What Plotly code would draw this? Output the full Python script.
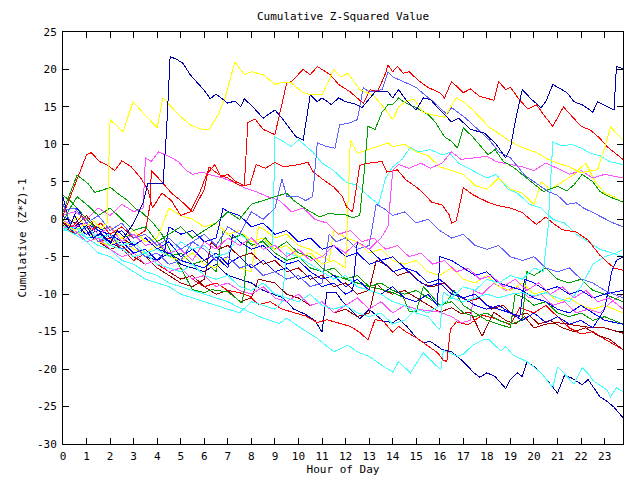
import plotly.graph_objects as go

title = "Cumulative Z-Squared Value"
x_title = "Hour of Day"
y_title = "Cumulative (Z*Z)-1"
hour_ticks = list(range(0, 24))
y_ticks = list(range(-30, 30, 5))

RED = "#ff0000"; DRED = "#a00000"; GREEN = "#00a000"; BLUE = "#0000ff"
DBLUE = "#0000a8"; PERI = "#6060ff"; YELLOW = "#ffff00"; MAGENTA = "#ff50ff"; CYAN = "#40ffff"

dblue_top = [(0,-0.5),(0.25,-1.2),(0.5,0.5),(0.8,-1.5),(1.0,-0.8),(1.3,-2.5),(1.6,-1.8),(2.0,-3.2),(2.3,-1.5),(2.6,-2.4),
    (3.0,-0.5),(3.4,2.2),(3.6,4.8),(4.25,4.8),(4.4,12.0),(4.55,21.7),(4.8,21.4),(5.1,20.8),(5.4,19.3),(5.7,18.3),
    (6.0,17.2),(6.25,16.1),(6.5,16.7),(7.0,15.5),(7.3,15.8),(7.55,15.0),(7.7,16.1),(8.15,14.7),(8.5,13.5),(9.0,14.6),
    (9.35,13.3),(9.9,11.0),(10.2,10.6),(10.5,16.6),(10.8,15.7),(11.0,16.2),(11.4,15.3),(11.7,16.2),(12.0,15.7),(12.4,15.4),
    (12.7,14.9),(13.25,17.0),(13.8,17.0),(14.0,16.2),(14.25,17.3),(14.6,15.8),(15.0,14.6),(15.3,16.2),(15.6,16.0),(16.0,14.6),
    (16.5,13.0),(16.8,13.5),(17.3,12.0),(17.9,11.5),(18.4,10.0),(18.8,8.2),(19.0,9.5),(19.2,13.0),(19.5,17.3),(19.9,16.0),
    (20.3,14.9),(20.5,15.7),(20.8,18.0),(21.4,16.9),(21.7,15.7),(22.1,15.2),(22.5,14.3),(22.7,15.7),(23.2,14.9),(23.4,14.6),
    (23.5,20.4),(23.78,20.1)]

yellow_top = [(0,-0.3),(0.3,-0.8),(0.6,0.3),(1.0,-1.0),(1.3,-0.2),(1.6,-1.2),(1.87,-0.5),(2.0,13.3),(2.55,11.7),(2.97,15.7),
    (3.4,14.2),(4.0,12.2),(4.24,16.2),(4.6,15.0),(4.9,14.0),(5.4,12.6),(5.9,12.0),(6.2,12.0),(6.6,14.0),(6.9,16.4),
    (7.3,21.0),(7.7,19.3),(8.0,19.7),(8.5,19.3),(9.0,18.0),(9.35,18.3),(9.7,18.2),(10.15,17.0),(10.5,16.6),(11.0,16.6),
    (11.5,20.0),(11.8,19.0),(12.1,19.5),(12.6,17.3),(13.2,16.5),(13.6,15.0),(14.0,13.3),(14.25,15.0),(14.6,15.8),(14.9,16.0),
    (15.3,14.3),(15.6,14.0),(16.2,13.6),(16.7,16.2),(17.0,15.7),(17.4,14.6),(18.1,12.3),(18.9,10.6),(19.4,9.7),(20.1,8.9),
    (20.6,8.0),(21.0,7.5),(21.5,7.0),(22.0,6.2),(22.4,6.5),(22.7,6.6),(23.0,9.5),(23.25,12.3),(23.78,10.6)]

red_top = [(0,0.5),(0.3,3.0),(0.6,5.5),(1.0,8.6),(1.2,8.9),(1.55,7.7),(1.85,7.3),(2.2,6.5),(2.5,7.8),(2.9,7.0),
    (3.3,5.5),(3.6,4.0),(3.8,1.5),(4.2,3.5),(4.6,2.5),(5.0,0.5),(5.4,1.0),(5.8,3.5),(6.1,6.0),(6.45,7.3),
    (6.7,5.7),(7.0,6.0),(7.35,5.0),(7.7,4.5),(7.85,12.9),(8.15,13.4),(8.5,12.0),(9.0,11.3),(9.5,18.2),(9.7,18.4),
    (10.2,20.0),(10.5,19.3),(10.8,20.4),(11.35,19.3),(11.7,18.0),(12.2,17.0),(12.75,15.5),(13.05,17.3),(13.35,17.0),(13.7,19.5),
    (13.8,20.6),(14.0,19.7),(14.2,20.4),(14.45,19.5),(14.7,19.7),(15.1,18.5),(15.5,17.6),(15.8,17.2),(16.0,16.9),(16.2,16.2),
    (16.5,18.4),(17.0,16.9),(17.3,17.4),(17.7,16.4),(18.3,15.9),(18.5,18.4),(18.8,17.3),(19.0,17.6),(19.4,15.9),(19.75,14.7),
    (20.1,15.3),(20.45,13.8),(20.8,12.4),(21.25,15.0),(21.7,13.5),(22.0,12.4),(22.4,11.9),(22.8,10.8),(23.1,9.7),(23.78,8.0)]

red_mid = [(0,-0.6),(0.4,-1.0),(0.8,0.5),(1.2,-1.5),(1.6,-0.5),(2.0,-2.0),(2.5,-1.0),(3.0,-2.5),(3.5,-1.5),(3.7,2.0),
    (3.75,6.5),(4.2,5.0),(4.6,3.5),(5.0,2.5),(5.5,1.0),(6.0,4.0),(6.2,7.0),(6.6,6.0),(7.0,5.5),(7.5,4.5),
    (7.94,4.6),(8.2,7.3),(8.6,6.8),(9.0,7.6),(9.35,7.0),(10.0,7.3),(10.4,7.6),(10.6,6.4),(11.0,5.4),(11.5,4.3),
    (11.85,3.1),(12.05,1.6),(12.3,1.0),(12.6,7.2),(13.0,7.5),(13.55,7.7),(13.75,6.3),(14.2,6.6),(14.55,5.3),(15.0,4.3),
    (15.3,3.5),(15.65,2.3),(16.1,1.9),(16.4,0.6),(16.5,-0.5),(16.7,-0.2),(17.0,4.2),(17.4,3.3),(17.7,2.8),(18.1,2.2),
    (18.5,1.8),(19.0,1.5),(19.5,0.9),(20.1,-0.7),(20.5,0.3),(20.8,-0.5),(21.2,-1.4),(21.8,-1.7),(22.3,-2.8),(22.8,-4.8),
    (23.1,-5.7),(23.4,-6.5),(23.78,-6.8)]

peri_jump = [(0,1.2),(0.5,1.5),(1.0,-0.5),(1.5,0.5),(2.0,-1.5),(2.5,-0.5),(3.0,-2.5),(3.5,-2.0),(4.0,-3.5),(4.5,-2.5),
    (5.0,-4.0),(5.5,-3.0),(6.0,-2.0),(6.5,-3.5),(7.0,-1.0),(7.5,-2.0),(8.0,1.0),(8.5,0.0),(9.0,1.5),(9.3,5.4),
    (9.5,3.0),(10.0,3.0),(10.3,2.5),(10.6,3.0),(10.8,10.2),(11.2,9.7),(11.55,9.5),(11.75,12.6),(12.2,12.9),(12.5,13.3),
    (12.75,17.6),(13.0,17.0),(13.55,17.3),(13.8,19.7),(14.0,19.0),(14.3,18.6),(14.7,18.0),(15.0,17.6),(15.4,16.5),(15.8,15.5),
    (16.3,14.0),(16.5,14.9),(17.1,13.5),(17.4,12.6),(17.8,11.5),(18.1,10.6),(18.5,9.0),(19.0,8.2),(19.6,5.9),(20.0,5.0),
    (20.6,3.7),(21.0,3.2),(21.4,2.0),(21.8,2.2),(22.1,1.5),(22.5,0.9),(22.9,0.2),(23.3,-0.4),(23.78,-1.0)]

green_jump = [(0,-0.4),(0.3,1.5),(0.6,3.0),(1.0,2.0),(1.5,0.5),(2.0,1.5),(2.5,0.0),(3.0,-1.5),(3.5,-1.0),(4.0,-3.0),
    (4.5,-2.0),(5.0,-1.0),(5.5,-2.5),(6.0,-1.5),(6.5,-0.5),(7.0,1.0),(7.5,0.0),(8.0,2.0),(8.5,2.5),(9.0,3.0),
    (9.5,3.5),(9.8,2.5),(10.35,1.3),(10.9,0.3),(11.3,0.8),(11.75,0.6),(12.0,0.6),(12.3,0.2),(12.6,0.5),(12.8,6.6),
    (12.95,12.4),(13.25,12.0),(13.55,14.3),(13.8,15.3),(14.0,15.3),(14.25,16.2),(14.5,15.6),(14.7,15.3),(15.0,14.9),(15.5,14.0),
    (15.8,13.0),(16.2,11.0),(16.5,10.4),(16.75,9.5),(17.0,12.2),(17.4,11.0),(18.05,8.6),(18.35,9.3),(18.7,7.7),(19.1,7.0),
    (19.5,6.0),(20.0,4.8),(20.4,3.7),(21.0,4.4),(21.4,3.8),(21.7,4.6),(22.05,6.0),(22.5,5.0),(22.8,3.7),(23.2,3.0),(23.78,2.3)]

cyan_low = [(0,-1.5),(0.5,-1.5),(1.0,-2.5),(1.5,-3.5),(2.0,-4.0),(2.5,-5.5),(3.0,-6.0),(3.5,-7.0),(4.0,-7.5),(4.5,-8.5),
    (5.0,-9.0),(5.5,-9.5),(6.0,-10.0),(6.5,-10.5),(7.0,-11.0),(7.5,-11.8),(7.94,-12.4),(8.5,-13.2),(9.2,-13.9),(9.5,-13.2),
    (10.05,-14.4),(10.8,-15.9),(11.5,-17.7),(12.1,-16.8),(12.5,-17.7),(13.05,-18.4),(13.4,-19.2),(14.0,-20.4),(14.25,-19.0),(14.75,-20.5),
    (15.3,-17.8),(15.6,-18.8),(16.05,-20.1),(16.15,-17.5),(16.4,-17.8),(16.75,-18.3),(17.0,-18.0),(17.4,-16.8),(17.85,-16.1),(18.1,-16.1),
    (18.6,-17.6),(18.8,-17.0),(19.1,-18.1),(19.7,-19.0),(20.3,-20.5),(20.8,-22.5),(21.0,-19.7),(21.2,-20.3),(21.7,-22.0),(22.05,-19.8),
    (22.3,-20.6),(22.5,-21.5),(23.1,-22.8),(23.25,-23.7),(23.5,-22.5),(23.78,-23.0)]

dblue_low = [(0,-0.8),(0.5,-1.0),(1.0,-2.0),(1.5,-1.5),(2.0,-3.0),(2.5,-4.0),(3.0,-3.5),(3.5,-5.0),(4.0,-5.5),(4.5,-4.5),
    (5.0,-6.0),(5.5,-6.5),(6.0,-7.0),(6.5,-6.0),(7.0,-7.5),(7.5,-8.0),(8.0,-8.5),(8.5,-9.5),(9.0,-10.1),(9.35,-10.5),
    (9.8,-12.0),(10.3,-12.7),(10.7,-13.5),(11.0,-15.1),(11.2,-9.8),(11.6,-9.8),(11.9,-11.1),(12.6,-13.3),(13.0,-12.0),(13.6,-13.6),
    (14.0,-13.8),(14.25,-13.3),(14.6,-14.3),(15.0,-15.8),(15.3,-16.5),(15.6,-16.3),(16.1,-17.4),(16.5,-17.7),(17.0,-19.0),(17.45,-20.5),
    (17.7,-21.1),(18.0,-20.5),(18.35,-21.0),(18.8,-22.6),(19.0,-21.4),(19.3,-20.5),(19.5,-21.0),(19.7,-19.0),(20.05,-19.8),(20.3,-20.5),
    (21.0,-23.2),(21.3,-20.8),(21.6,-21.2),(22.05,-22.1),(22.3,-21.4),(22.8,-23.7),(23.1,-24.3),(23.4,-25.1),(23.78,-26.5)]

red_low = [(0,-0.9),(0.5,-2.0),(1.0,-1.0),(1.5,-3.0),(2.0,-2.5),(2.5,-4.0),(3.0,-5.5),(3.5,-4.5),(4.0,-6.0),(4.5,-7.0),
    (5.0,-6.5),(5.5,-8.0),(6.0,-9.0),(6.5,-8.5),(7.0,-9.5),(7.5,-9.8),(7.94,-10.3),(8.3,-11.4),(8.8,-11.0),(9.3,-12.0),
    (9.8,-12.4),(10.3,-12.9),(10.8,-13.8),(11.2,-13.4),(12.2,-14.3),(12.6,-15.1),(12.95,-16.1),(13.25,-13.4),(13.6,-13.6),(14.0,-15.1),
    (14.25,-14.3),(14.6,-15.1),(15.0,-15.8),(15.3,-16.5),(15.9,-17.8),(16.15,-18.8),(16.3,-19.0),(16.45,-14.7),(16.7,-13.7),(17.2,-14.1),
    (17.8,-12.8),(18.3,-13.2),(19.0,-14.1),(19.4,-11.8),(20.0,-12.5),(20.5,-11.5),(21.0,-13.0),(21.5,-14.5),(22.0,-15.3),(22.5,-15.0),
    (23.0,-16.0),(23.78,-17.4)]

magenta_a = [(0,0.6),(0.5,1.0),(1.0,0.0),(1.5,1.5),(2.0,0.5),(2.5,2.0),(3.0,1.0),(3.4,1.5),(3.5,8.2),(3.75,7.7),
    (4.05,9.0),(4.3,8.7),(4.5,8.4),(4.9,7.7),(5.2,6.6),(5.5,6.0),(5.9,6.3),(6.3,5.9),(6.8,5.5),(7.2,5.0),
    (7.7,4.2),(8.2,3.7),(8.7,3.0),(9.2,2.5),(9.7,1.0),(10.2,1.5),(10.7,0.0),(11.2,-0.5),(11.7,-2.0),(12.2,-1.5),
    (12.7,-3.0),(13.2,-2.5),(13.7,-4.0),(14.2,-3.5),(14.7,-5.0),(15.2,-4.5),(15.7,-6.0),(16.2,-5.5),(16.7,-7.0),(17.2,-6.5),
    (17.7,-8.0),(18.2,-7.5),(18.7,-9.0),(19.2,-8.0),(19.7,-9.5),(20.2,-8.5),(20.7,-10.0),(21.2,-9.0),(21.7,-10.5),(22.2,-9.5),
    (22.7,-11.0),(23.2,-10.5),(23.78,-12.0)]

magenta_b = [(0,-0.2),(0.5,-1.0),(1.0,-0.5),(1.5,-2.0),(2.0,-1.0),(2.5,-3.0),(3.0,-2.0),(3.5,-3.5),(4.0,-3.0),(4.5,-4.5),
    (5.0,-4.0),(5.5,-5.5),(6.0,-3.0),(6.5,-4.0),(7.0,-2.5),(7.5,-3.5),(8.0,-2.5),(8.5,-4.0),(9.0,-3.5),(9.5,-5.0),
    (10.0,-4.0),(10.5,-5.5),(11.0,-5.0),(11.5,-3.5),(12.0,-4.5),(12.5,-3.0),(13.0,-4.0),(13.5,-2.5),(13.8,-1.0),(14.0,6.5),
    (14.25,7.3),(14.7,6.8),(15.2,7.5),(15.6,6.8),(16.1,7.5),(16.5,9.0),(16.9,8.0),(17.4,8.2),(18.0,8.4),(18.4,7.7),
    (19.0,7.3),(19.5,7.0),(20.0,6.5),(20.5,7.5),(21.0,6.8),(21.5,6.0),(22.0,6.5),(22.5,5.5),(23.0,6.0),(23.78,5.5)]

magenta_c = [(0,-1.0),(0.5,-1.5),(1.0,-3.0),(1.5,-2.5),(2.0,-4.0),(2.5,-5.0),(3.0,-4.5),(3.5,-6.0),(4.0,-5.5),(4.5,-7.0),
    (5.0,-6.5),(5.5,-8.0),(6.0,-7.5),(6.5,-9.0),(7.0,-8.5),(7.5,-9.5),(8.0,-10.0),(8.5,-9.0),(9.0,-10.5),(9.5,-11.0),
    (10.0,-10.0),(10.5,-11.5),(11.0,-11.0),(11.5,-12.5),(12.0,-11.5),(12.5,-10.5),(13.0,-12.0),(13.5,-11.0),(14.0,-12.5),(14.5,-11.5),
    (15.0,-12.0),(15.5,-12.2),(16.0,-12.4),(16.5,-13.0),(16.9,-13.8),(17.3,-13.5),(17.45,-9.5),(17.8,-10.0),(18.3,-8.5),(18.8,-9.5),
    (19.3,-9.0),(19.8,-10.5),(20.3,-10.0),(20.8,-11.5),(21.3,-11.0),(21.8,-12.5),(22.3,-12.0),(22.8,-12.5),(23.3,-11.0),(23.78,-10.0)]

dred_a = [(0,-0.8),(0.5,-1.0),(1.0,0.5),(1.5,-1.5),(2.0,-1.0),(2.5,-2.5),(3.0,-3.5),(3.5,-5.0),(4.0,-6.5),(4.5,-7.5),
    (5.0,-8.5),(5.5,-9.0),(6.0,-8.0),(6.3,-3.0),(6.6,-4.0),(7.0,-3.5),(7.5,-5.0),(8.0,-4.5),(8.5,-6.0),(9.0,-5.5),
    (9.5,-7.0),(10.0,-6.5),(10.5,-8.0),(11.0,-7.5),(11.5,-9.0),(12.0,-8.5),(12.5,-10.0),(13.0,-9.5),(13.3,-5.5),(13.7,-6.0),
    (14.2,-7.5),(14.7,-7.0),(15.2,-8.5),(15.7,-9.0),(16.2,-8.5),(16.7,-10.0),(17.2,-11.0),(17.7,-10.5),(18.2,-12.0),(18.7,-11.5),
    (19.2,-13.0),(19.7,-12.5),(20.2,-14.0),(20.7,-13.5),(21.2,-14.5),(21.7,-15.0),(22.2,-14.5),(22.7,-15.5),(23.2,-16.0),(23.78,-17.4)]

dred_b = [(0,-0.3),(0.5,-2.0),(1.0,-1.5),(1.5,-3.0),(2.0,-4.0),(2.5,-3.5),(3.0,-5.0),(3.5,-6.0),(4.0,-5.5),(4.5,-7.0),
    (5.0,-8.0),(5.5,-7.5),(6.0,-9.0),(6.5,-10.0),(7.0,-9.5),(7.5,-11.0),(8.0,-10.5),(8.3,-8.0),(9.0,-8.5),(9.5,-10.0),
    (10.0,-10.5),(10.5,-11.5),(11.0,-11.0),(11.5,-12.5),(12.0,-12.0),(12.5,-13.0),(13.0,-12.5),(13.3,-8.5),(13.6,-9.5),(14.0,-10.0),
    (14.5,-9.5),(15.0,-10.5),(15.5,-11.5),(16.0,-12.4),(16.5,-11.8),(16.9,-12.6),(17.3,-12.4),(17.8,-15.6),(18.3,-12.4),(18.8,-13.5),
    (19.2,-14.0),(19.6,-13.0),(20.0,-14.5),(20.5,-14.0),(21.0,-13.8),(21.5,-14.0),(22.0,-14.2),(22.5,-14.5),(23.0,-14.5),(23.78,-15.2)]

green_b = [(0,1.0),(0.6,5.9),(1.05,4.8),(1.35,3.6),(1.7,3.9),(2.0,4.3),(2.3,3.5),(2.7,2.6),(3.05,1.5),(3.35,0.9),
    (3.8,-0.4),(4.2,-2.0),(4.6,-4.5),(5.0,-6.5),(5.5,-9.4),(6.0,-9.8),(6.3,-9.4),(6.8,-9.6),(7.0,-9.7),(7.3,-10.4),
    (7.6,-11.2),(7.7,-9.4),(7.8,-3.0),(8.2,-3.5),(8.6,-2.5),(9.0,-4.0),(9.5,-3.0),(10.0,-4.5),(10.5,-5.0),(11.0,-6.5),
    (11.5,-7.5),(12.0,-8.0),(12.5,-8.5),(13.0,-9.0),(13.6,-9.4),(14.0,-9.8),(14.45,-10.4),(14.7,-12.3),(15.0,-12.3),(15.3,-9.0),
    (15.6,-10.0),(16.0,-11.5),(16.3,-11.0),(16.6,-9.5),(17.0,-11.5),(17.5,-12.5),(18.0,-13.5),(18.5,-14.0),(19.0,-14.5),(19.2,-10.0),
    (19.6,-10.5),(20.0,-11.5),(20.5,-11.0),(21.0,-12.5),(21.5,-13.0),(22.0,-12.5),(22.5,-13.5),(23.0,-13.0),(23.78,-14.0)]

green_c = [(0,3.2),(0.3,2.5),(0.6,1.5),(1.0,0.0),(1.5,-1.5),(2.0,-1.0),(2.5,-2.5),(3.0,-2.0),(3.5,-3.5),(4.0,-3.0),
    (4.5,-5.0),(5.0,-4.5),(5.5,-6.0),(6.0,-5.5),(6.5,-7.0),(6.8,-1.5),(7.2,-2.5),(7.6,-2.0),(8.0,-3.5),(8.5,-3.0),
    (9.0,-4.5),(9.5,-5.5),(10.0,-5.0),(10.5,-6.5),(11.0,-7.0),(11.5,-6.5),(12.0,-8.0),(12.5,-7.5),(13.0,-9.0),(13.5,-8.5),
    (14.0,-9.5),(14.5,-10.0),(15.0,-9.5),(15.5,-10.5),(16.0,-11.5),(16.5,-11.0),(17.0,-12.5),(17.5,-13.0),(18.0,-12.5),(18.5,-13.5),
    (19.0,-14.0),(19.5,-13.5),(19.7,-7.0),(20.0,-7.5),(20.5,-6.5),(21.0,-8.0),(21.5,-8.5),(22.0,-8.0),(22.5,-9.5),(23.0,-10.0),(23.78,-11.0)]

yellow_b = [(0,-0.7),(0.5,-1.5),(1.0,-0.5),(1.5,-2.0),(2.0,-1.0),(2.5,-2.5),(3.0,-1.5),(3.5,-3.0),(4.0,-2.5),(4.5,1.5),
    (5.0,0.5),(5.5,0.0),(6.0,-1.0),(6.5,-0.5),(7.0,-2.0),(7.5,-1.5),(8.0,-3.0),(8.5,-2.5),(9.0,-4.0),(9.5,-3.5),
    (10.0,-5.0),(10.5,-4.5),(11.0,-6.0),(11.5,-5.5),(12.0,-6.5),(12.2,10.6),(12.5,8.8),(13.0,9.3),(13.5,9.9),(13.8,10.2),
    (14.0,9.7),(14.5,10.0),(15.0,9.0),(15.5,8.5),(16.0,7.0),(16.5,6.5),(17.0,6.0),(17.5,4.5),(18.0,4.0),(18.5,5.5),
    (19.0,4.0),(19.5,3.5),(20.0,2.0),(20.3,5.0),(20.7,4.0),(21.2,5.0),(21.7,6.0),(22.2,7.5),(22.6,5.0),(23.0,3.5),
    (23.4,3.0),(23.78,2.2)]

yellow_c = [(0,-1.2),(0.5,-2.0),(1.0,-1.5),(1.5,-3.0),(2.0,-3.5),(2.5,-2.5),(3.0,-4.0),(3.5,-4.5),(4.0,-3.5),(4.5,-5.0),
    (5.0,-5.5),(5.5,-4.5),(6.0,-6.0),(6.5,-6.5),(7.0,-5.0),(7.5,-6.5),(8.0,-7.0),(8.3,-1.0),(8.6,-1.5),(9.0,-2.5),
    (9.5,-2.0),(10.0,-3.5),(10.5,-4.0),(11.0,-5.0),(11.3,-5.5),(11.5,-1.5),(12.0,-2.5),(12.5,-3.0),(13.0,-4.5),(13.5,-4.0),
    (14.0,-5.5),(14.5,-6.0),(15.0,-5.5),(15.5,-7.0),(16.0,-7.5),(16.5,-6.5),(17.0,-8.0),(17.5,-8.5),(18.0,-7.5),(18.5,-9.0),
    (19.0,-9.5),(19.5,-8.5),(20.0,-10.0),(20.5,-9.5),(21.0,-11.0),(21.5,-10.5),(22.0,-11.5),(22.5,-12.0),(23.0,-11.5),(23.78,-12.5)]

cyan_late = [(0,-1.3),(0.5,-1.0),(1.0,-2.5),(1.5,-2.0),(2.0,-3.5),(2.5,-4.0),(3.0,-5.0),(3.5,-4.5),(4.0,-6.0),(4.5,-6.5),
    (5.0,-7.0),(5.5,-6.0),(6.0,-7.5),(6.5,-8.0),(7.0,-7.5),(7.5,-9.0),(8.0,-9.5),(8.5,-8.5),(9.0,-10.0),(9.5,-10.5),
    (10.0,-11.0),(10.5,-10.0),(11.0,-11.5),(11.5,-12.0),(12.0,-11.5),(12.5,-12.5),(13.0,-13.0),(13.5,-12.5),(14.0,-14.0),(14.5,-13.5),
    (15.0,-12.0),(15.5,-12.5),(16.0,-11.5),(16.5,-10.5),(17.0,-9.0),(17.5,-9.5),(18.0,-8.0),(18.5,-8.5),(19.0,-7.5),(19.5,-8.0),
    (20.0,-6.5),(20.4,-7.0),(20.6,-1.0),(20.8,10.3),(21.2,9.8),(21.6,10.0),(22.0,9.5),(22.4,8.8),(22.8,8.5),(23.2,7.7),
    (23.5,7.5),(23.78,7.3)]

cyan_mid = [(0,-0.9),(0.5,-1.5),(1.0,-1.0),(1.5,-2.5),(2.0,-2.0),(2.5,-3.5),(3.0,-3.0),(3.5,-4.5),(4.0,-4.0),(4.5,-5.0),
    (5.0,-3.0),(5.5,-4.0),(6.0,-3.5),(6.5,-5.0),(7.0,-4.5),(7.5,-2.0),(8.0,-3.0),(8.5,-2.5),(8.9,-4.0),(9.0,11.0),
    (9.35,10.4),(9.7,9.7),(10.0,10.6),(10.3,9.8),(10.6,9.0),(11.0,7.5),(11.5,6.5),(12.0,5.0),(12.5,4.5),(13.0,3.0),
    (13.4,2.0),(13.7,5.5),(14.0,7.0),(14.4,8.0),(14.75,9.6),(15.1,9.0),(15.6,9.3),(16.1,8.6),(16.4,8.9),(16.8,7.5),
    (17.4,6.5),(18.0,5.5),(18.4,6.0),(18.9,4.0),(19.3,3.5),(19.8,2.0),(20.3,1.5),(20.8,0.0),(21.3,-0.5),(21.8,-2.0),
    (22.3,-3.0),(22.8,-4.0),(23.3,-4.5),(23.78,-5.0)]

cyan_b = [(0,-1.2),(0.5,-2.0),(1.0,-3.0),(1.5,-4.5),(2.0,-5.0),(2.5,-6.0),(3.0,-7.0),(3.5,-8.0),(4.0,-8.5),(4.5,-9.0),
    (5.0,-10.0),(5.5,-10.5),(6.0,-11.0),(6.5,-11.5),(7.0,-12.0),(7.5,-12.5),(8.0,-11.0),(8.5,-11.5),(9.0,-12.0),(9.3,-11.0),
    (9.5,-4.5),(10.0,-5.0),(10.5,-6.0),(11.0,-7.0),(11.5,-8.0),(12.0,-7.5),(12.5,-9.0),(13.0,-9.5),(13.5,-10.0),(14.0,-11.0),
    (14.5,-11.5),(15.0,-12.5),(15.5,-13.0),(16.0,-14.8),(16.15,-9.7),(16.5,-10.5),(17.0,-11.0),(17.5,-10.5),(18.0,-10.0),(18.5,-10.5),
    (19.0,-10.0),(19.5,-9.8),(20.0,-10.2),(20.5,-9.8),(21.0,-10.5),(21.5,-11.0),(22.0,-9.0),(22.5,-6.0),(23.0,-5.0),(23.5,-4.5),(23.78,-4.0)]

blue_a = [(0,0.4),(0.5,-0.5),(1.0,-2.0),(1.5,-1.0),(2.0,-2.5),(2.5,-1.5),(3.0,-3.5),(3.5,-2.5),(4.0,-4.0),(4.5,-3.0),
    (5.0,-5.0),(5.5,-4.0),(6.0,-5.5),(6.5,-4.5),(7.0,-6.0),(7.5,-5.0),(8.0,-6.5),(8.5,-5.5),(9.0,-7.0),(9.5,-6.5),
    (10.0,-8.0),(10.5,-7.5),(11.0,-9.0),(11.5,-8.5),(12.0,-10.0),(12.3,-9.5),(12.5,-3.0),(13.0,-4.0),(13.5,-5.5),(14.0,-5.0),
    (14.5,-6.5),(15.0,-7.0),(15.5,-8.5),(16.0,-8.0),(16.5,-9.5),(17.0,-10.5),(17.5,-10.0),(18.0,-11.5),(18.5,-12.0),(19.0,-12.5),
    (19.5,-13.5),(20.0,-12.5),(20.5,-13.8),(21.0,-13.0),(21.5,-14.0),(22.0,-13.5),(22.5,-14.5),(23.0,-12.0),(23.3,-7.0),(23.5,-5.5),(23.78,-5.0)]

blue_b = [(0,-0.5),(0.4,-1.5),(0.8,-0.5),(1.2,-2.5),(1.6,-2.0),(2.0,-3.5),(2.5,-3.0),(3.0,-4.5),(3.5,-4.0),(4.0,-5.5),
    (4.3,-4.5),(4.5,-1.0),(5.0,-2.0),(5.5,-1.5),(6.0,-3.0),(6.5,-2.5),(6.8,1.5),(7.0,1.0),(7.5,0.5),(8.0,-1.0),
    (8.5,-0.5),(9.0,-2.0),(9.5,-1.5),(10.0,-3.0),(10.5,-2.5),(11.0,-4.0),(11.5,-3.5),(12.0,-5.0),(12.5,-4.5),(13.0,-6.0),
    (13.5,-5.5),(14.0,-7.0),(14.5,-6.5),(15.0,-8.0),(15.5,-9.0),(16.0,-8.5),(16.5,-10.0),(17.0,-10.5),(17.5,-11.5),(18.0,-12.0),
    (18.5,-11.5),(19.0,-12.5),(19.4,-13.0),(19.6,-8.0),(20.0,-8.5),(20.5,-9.5),(21.0,-9.0),(21.5,-10.0),(22.0,-9.5),(22.5,-10.5),
    (23.0,-10.0),(23.78,-9.5)]

blue_c = [(0,3.0),(0.3,-1.0),(0.6,1.5),(1.0,-0.5),(1.5,-1.5),(2.0,-2.0),(2.5,-3.0),(3.0,-3.5),(3.5,-2.5),(4.0,-4.0),
    (4.5,-4.5),(5.0,-5.5),(5.5,-6.0),(6.0,-6.5),(6.5,-5.0),(7.0,-6.5),(7.2,-2.0),(7.5,-3.0),(8.0,-4.0),(8.5,-3.5),
    (9.0,-5.0),(9.5,-6.0),(10.0,-5.5),(10.5,-7.0),(11.0,-8.0),(11.5,-7.5),(12.0,-9.0),(12.5,-8.0),(13.0,-9.5),(13.5,-10.0),
    (14.0,-9.0),(14.5,-10.5),(15.0,-11.0),(15.5,-10.0),(15.9,-11.5),(16.0,-5.0),(16.5,-5.5),(17.0,-6.5),(17.5,-7.5),(18.0,-7.0),
    (18.5,-8.5),(19.0,-9.0),(19.5,-9.5),(20.0,-10.5),(20.5,-11.0),(21.0,-12.0),(21.5,-12.5),(22.0,-11.5),(22.5,-12.5),(23.0,-13.5),(23.78,-14.0)]

peri_b = [(0,2.0),(0.5,-2.0),(1.0,-1.0),(1.5,-3.0),(2.0,-2.0),(2.5,-4.0),(3.0,-3.5),(3.5,-5.0),(4.0,-4.5),(4.5,-6.0),
    (5.0,-5.5),(5.5,-3.0),(6.0,-4.0),(6.5,-5.5),(7.0,-5.0),(7.5,-6.5),(8.0,-6.0),(8.5,-7.5),(9.0,-7.0),(9.5,-8.0),
    (10.0,-7.5),(10.5,-9.0),(11.0,-8.5),(11.3,-2.0),(11.6,-3.0),(12.0,-2.5),(12.5,-4.0),(13.0,-3.5),(13.3,2.0),(13.6,1.5),
    (14.0,0.5),(14.5,1.0),(15.0,-0.5),(15.5,0.0),(16.0,-1.5),(16.5,-2.5),(17.0,-2.0),(17.5,-3.5),(18.0,-4.0),(18.5,-3.5),
    (19.0,-5.0),(19.5,-5.5),(20.0,-5.0),(20.5,-6.5),(21.0,-7.0),(21.5,-6.5),(22.0,-8.0),(22.5,-8.5),(23.0,-9.5),(23.78,-10.5)]

series = [
    (dblue_low, DBLUE), (cyan_low, CYAN), (red_low, RED), (dred_a, DRED), (dred_b, DRED),
    (magenta_c, MAGENTA), (green_b, GREEN), (green_c, GREEN), (yellow_c, YELLOW), (blue_a, BLUE),
    (blue_b, BLUE), (blue_c, BLUE), (peri_b, PERI), (cyan_b, CYAN), (magenta_a, MAGENTA),
    (cyan_mid, CYAN), (yellow_b, YELLOW), (red_mid, RED), (cyan_late, CYAN), (magenta_b, MAGENTA),
    (green_jump, GREEN), (peri_jump, PERI), (red_top, RED), (yellow_top, YELLOW), (dblue_top, DBLUE),
]

fig = go.Figure()
for pts, col in series:
    xs = [p[0] for p in pts]
    ys = [p[1] for p in pts]
    fig.add_trace(go.Scatter(x=xs, y=ys, mode="lines", line=dict(color=col, width=1), hoverinfo="skip"))

FONT = "DejaVu Sans Mono"
axis_common = dict(showgrid=False, zeroline=False, showline=True, linecolor="black", linewidth=1,
                   ticks="inside", ticklen=6, tickcolor="black", mirror="allticks", automargin=False,
                   tickfont=dict(family=FONT, size=11, color="black"))
fig.update_layout(
    width=640, height=480,
    margin=dict(l=63, r=17, t=32, b=36),
    paper_bgcolor="white", plot_bgcolor="white", showlegend=False,
    font=dict(family=FONT, size=11, color="black"),
    title=dict(text=title, x=(63 + 280) / 640, xanchor="center", y=1 - 16 / 480, yanchor="middle",
               font=dict(family=FONT, size=11, color="black")),
    xaxis=dict(range=[0, 23.78], tickvals=hour_ticks, ticktext=[str(h) for h in hour_ticks],
               ticklabelstandoff=2,
               title=dict(text=x_title, standoff=3, font=dict(family=FONT, size=11)), **axis_common),
    yaxis=dict(range=[-30, 25], tickvals=y_ticks, ticktext=[str(v) for v in y_ticks],
               ticklabelstandoff=3,
               title=dict(text=y_title, standoff=8, font=dict(family=FONT, size=11)), **axis_common),
)
post = ("var s=document.createElement('style');"
        "s.innerHTML='.scatterlayer .js-line{shape-rendering:crispEdges}';"
        "document.head.appendChild(s);")
fig.write_html("out.html", post_script=post)
